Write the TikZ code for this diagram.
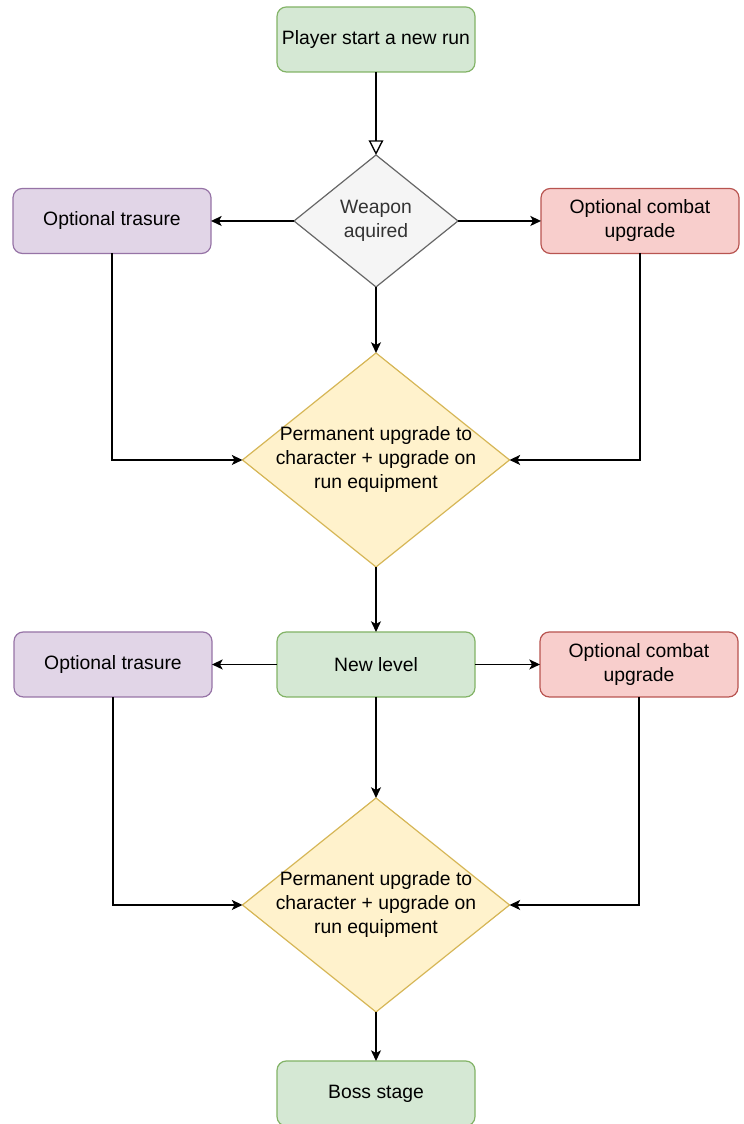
\documentclass[tikz,border=0pt]{standalone}
\usepackage{fontspec}
\setmainfont{Liberation Sans}
\usetikzlibrary{arrows.meta,positioning,shapes.geometric}

\definecolor{greenfill}{HTML}{D5E8D4}
\definecolor{greenline}{HTML}{82B366}
\definecolor{purplefill}{HTML}{E1D5E7}
\definecolor{purpleline}{HTML}{9673A6}
\definecolor{redfill}{HTML}{F8CECC}
\definecolor{redline}{HTML}{B85450}
\definecolor{yellowfill}{HTML}{FFF2CC}
\definecolor{yellowline}{HTML}{D6B656}
\definecolor{grayfill}{HTML}{F5F5F5}
\definecolor{grayline}{HTML}{666666}
\definecolor{graytext}{HTML}{333333}

\begin{document}
\begin{tikzpicture}[
  font=\fontsize{14.5pt}{18pt}\selectfont,
  box/.style={draw, rounded corners=7pt, align=center, line width=0.9pt,
    minimum width=148.5pt, minimum height=48.75pt, inner sep=2pt, outer sep=0pt},
  stage/.style={box, fill=greenfill, draw=greenline},
  treasure/.style={box, fill=purplefill, draw=purpleline},
  combat/.style={box, fill=redfill, draw=redline},
  decision/.style={diamond, draw, align=center, line width=0.9pt, inner sep=-10pt, outer sep=0pt},
  upgrade/.style={decision, fill=yellowfill, draw=yellowline,
    minimum width=200.25pt, minimum height=160.5pt, aspect=1.25},
  arr/.style={-{Stealth[length=8pt, width=7.5pt, inset=2pt]}, line width=1pt},
  openarr/.style={-{Triangle[open, length=11pt, width=11pt]}, line width=1pt}
]

\useasboundingbox (0pt,0pt) rectangle (557.25pt,-843pt);

\node[stage] (start) at (282pt,-29.6pt) {Player start a new run};

\node[decision, fill=grayfill, draw=grayline, text=graytext,
  minimum width=123pt, minimum height=99pt, aspect=1.24,
  below=62.25pt of start] (weapon) {Weapon\\aquired};

\node[treasure, left=62.25pt of weapon] (treasure1) {Optional trasure};
\node[combat, right=62.25pt of weapon] (combat1) {Optional combat\\upgrade};

\node[upgrade, below=49.5pt of weapon] (upgrade1) {Permanent upgrade to\\character + upgrade on\\run equipment};

\node[stage, below=48.75pt of upgrade1] (level) {New level};

\node[treasure, left=48.75pt of level] (treasure2) {Optional trasure};
\node[combat, right=48.75pt of level] (combat2) {Optional combat\\upgrade};

\node[upgrade, below=75.75pt of level] (upgrade2) {Permanent upgrade to\\character + upgrade on\\run equipment};

\node[stage, below=36.75pt of upgrade2] (boss) {Boss stage};

\draw[openarr] (start) -- (weapon);
\draw[arr] (weapon) -- (treasure1);
\draw[arr] (weapon) -- (combat1);
\draw[arr] (weapon) -- (upgrade1);
\draw[arr] (treasure1.south) |- (upgrade1.west);
\draw[arr] (combat1.south) |- (upgrade1.east);

\draw[arr] (upgrade1) -- (level);
\draw[arr] (level) -- (treasure2);
\draw[arr] (level) -- (combat2);
\draw[arr] (level) -- (upgrade2);
\draw[arr] (treasure2.south) |- (upgrade2.west);
\draw[arr] (combat2.south) |- (upgrade2.east);

\draw[arr] (upgrade2) -- (boss);

\end{tikzpicture}
\end{document}
